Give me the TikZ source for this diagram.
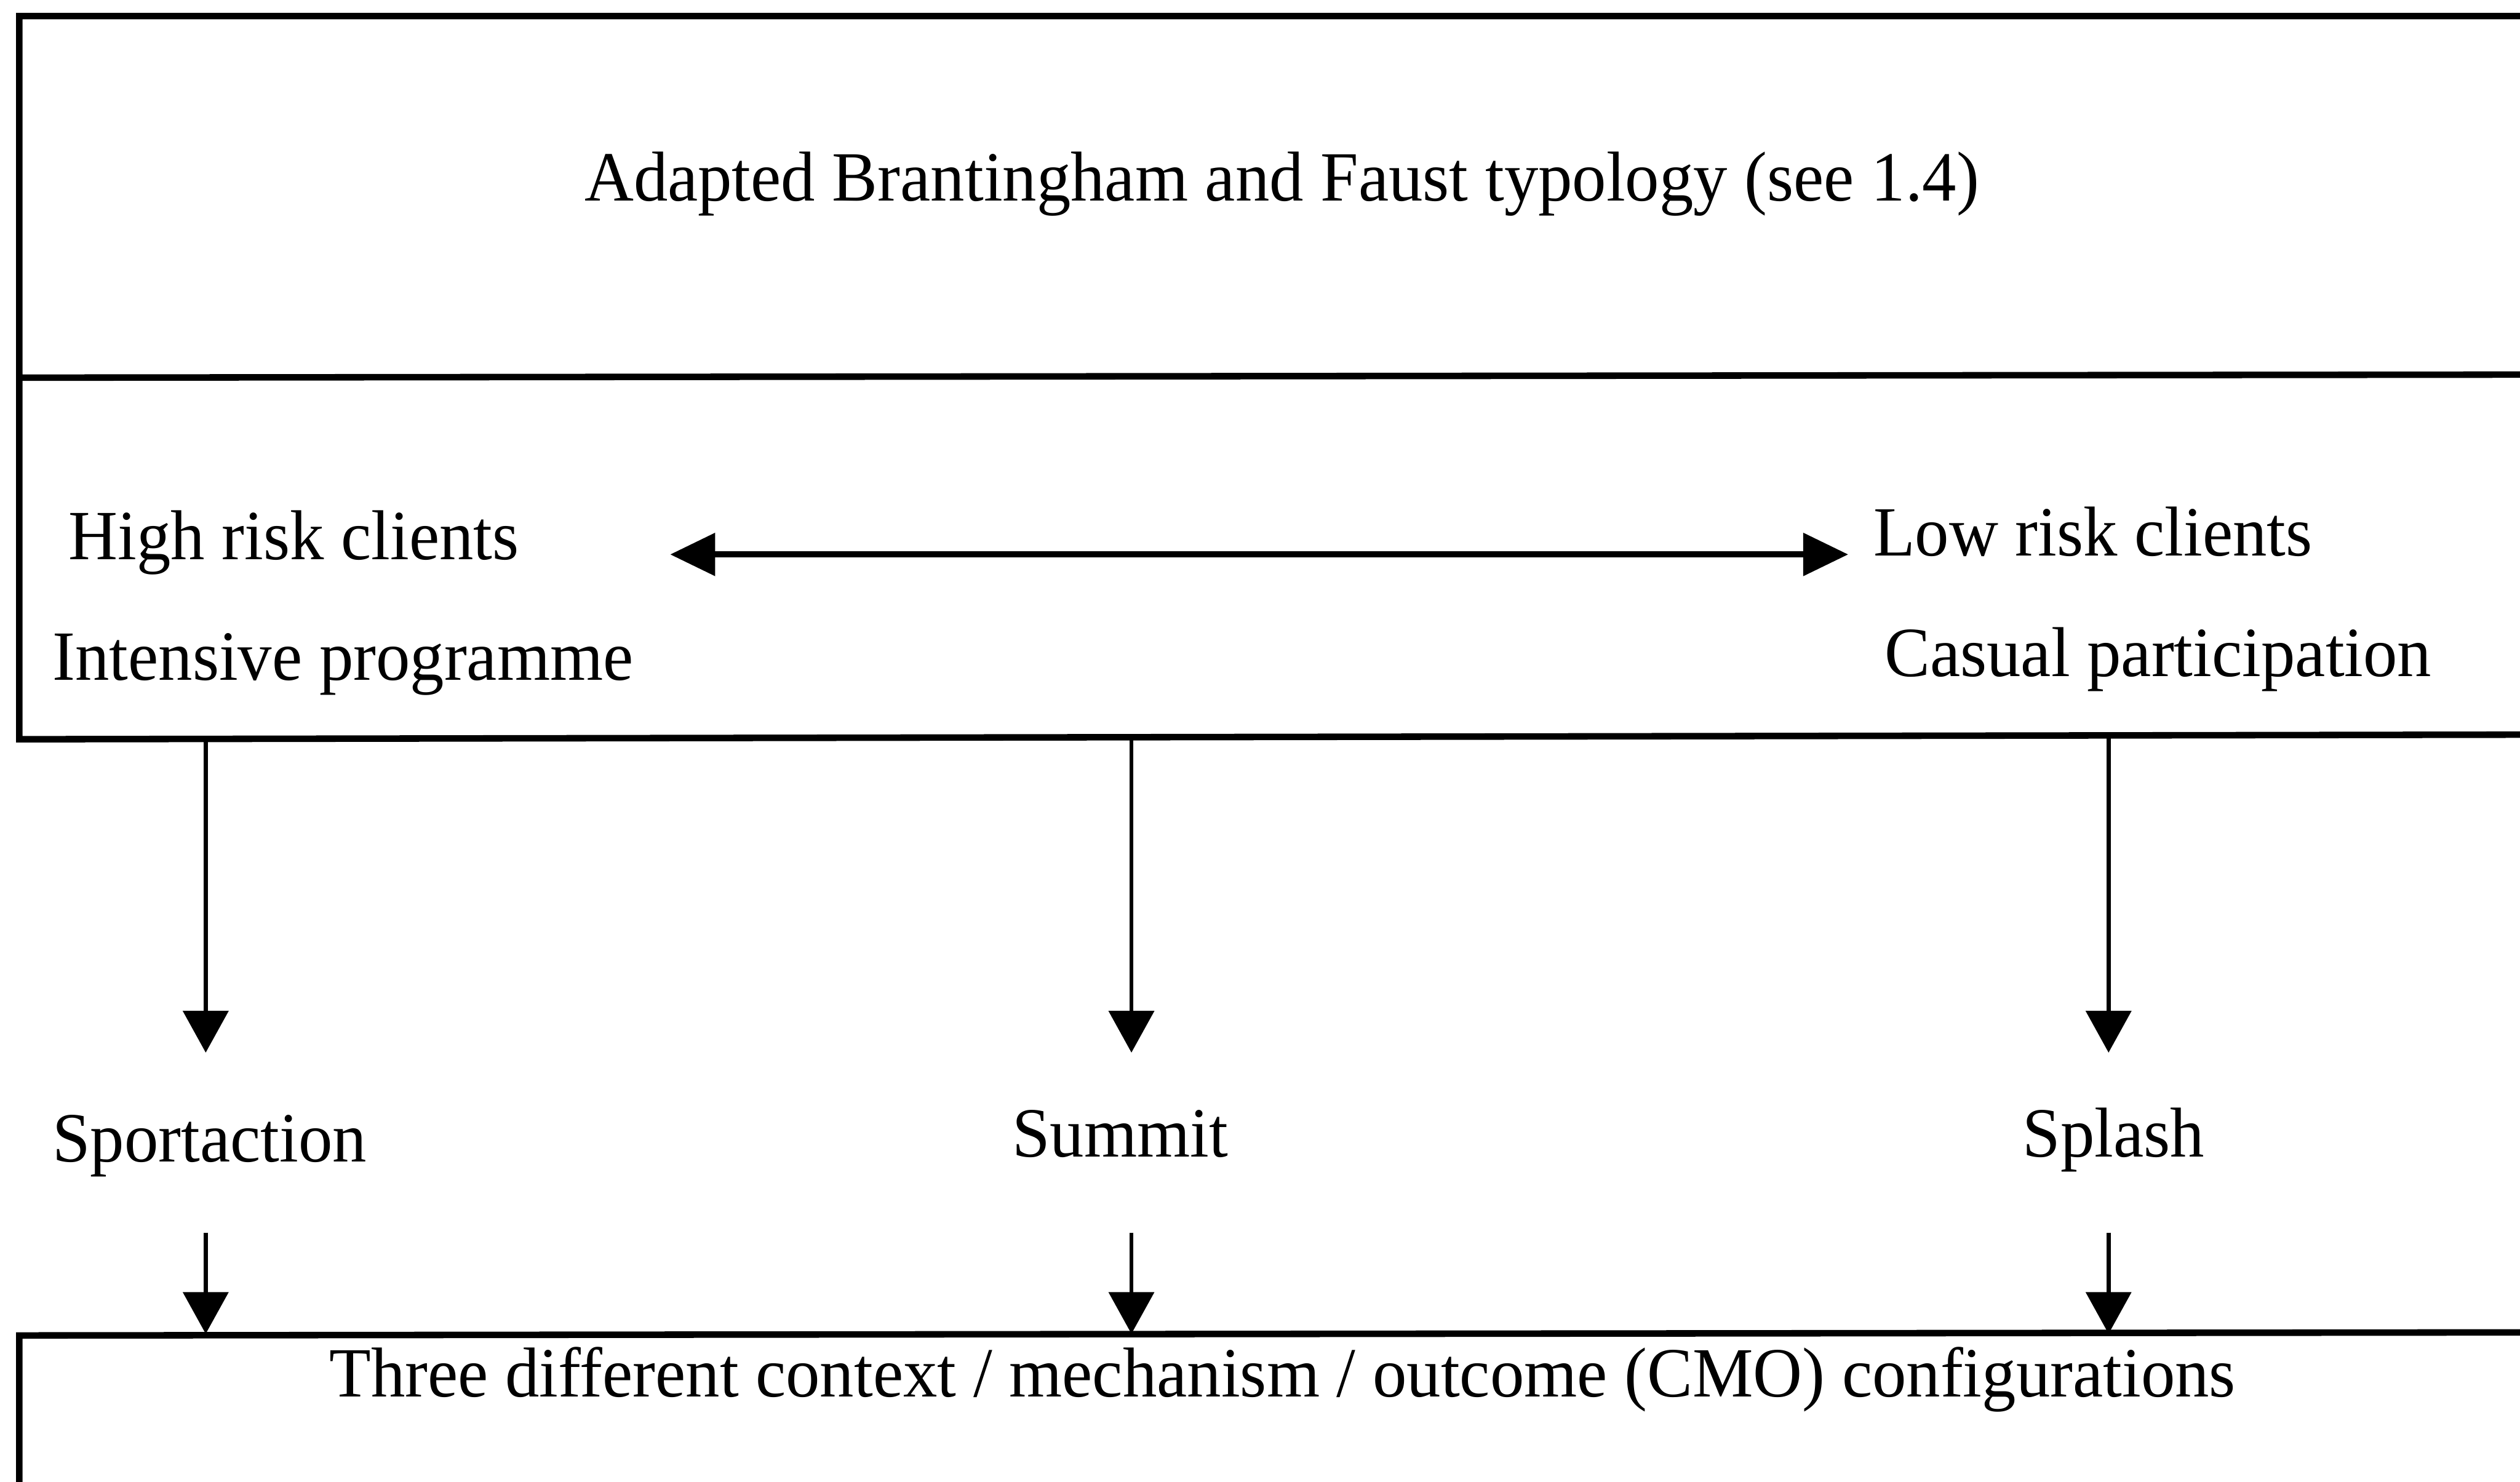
\documentclass[tikz,border=0pt]{standalone}
\usepackage{fontspec}
\setmainfont[FakeStretch=0.965]{Liberation Serif}
\usetikzlibrary{positioning,arrows.meta,calc}

\begin{document}
\begin{tikzpicture}[x=0.1mm,y=-0.1mm,
    font=\fontsize{12.5}{15}\selectfont,
    panel/.style={line width=1.15pt},
    lbl/.style={inner sep=0,anchor=base west},
    flow/.style={-{Triangle[length=2.6mm,width=2.8mm]},line width=0.75pt},
    span/.style={{Triangle[length=2.8mm,width=2.6mm]}-{Triangle[length=2.8mm,width=2.6mm]},line width=1.1pt}]
  \useasboundingbox (0,0) rectangle (1568,922);
  \clip (0,0) rectangle (1568,922);
  % the three panels, running off the right and bottom edges
  \draw[panel] (1640,10) -- (12,10) -- (12,235) -- (1640,233);
  \draw[panel] (12,235) -- (12,460) -- (1640,457);
  \draw[panel] (1640,829) -- (12,831) -- (12,960);
  \coordinate (cmotop) at (0,830);
  % texts
  \node[lbl] (typology) at (363,125) {Adapted Brantingham and Faust typology (see 1.4)};
  \node[lbl] (highrisk) at (42,348) {High risk clients};
  \node[lbl] (intensive) at (32,423) {Intensive programme};
  \node[lbl] (lowrisk) at (1165,346) {Low risk clients};
  \node[lbl] (casual) at (1172,421) {Casual participation};
  \node[lbl] (sportaction) at (32,723) {Sportaction};
  \node[inner sep=0,anchor=base] (summit) at (697,720) {Summit};
  \node[inner sep=0,anchor=base] (splash) at (1315,720) {Splash};
  \node[inner sep=0,anchor=base] (cmo) at (798,869) {Three different context / mechanism / outcome (CMO) configurations};
  % connectors
  \coordinate (spanL) at (417,345);
  \coordinate (spanR) at (1150,345);
  \draw[span] (spanL) -- (spanR);
  \foreach \x/\lab in {128/sportaction,704/summit,1312/splash}{
    \coordinate (up-\lab) at (\x,459);
    \coordinate (down-\lab) at (\x,767);
    \draw[flow] (up-\lab) -- (\x,655);
    \draw[flow] (down-\lab) -- (down-\lab |- cmotop);
  }
\end{tikzpicture}
\end{document}
